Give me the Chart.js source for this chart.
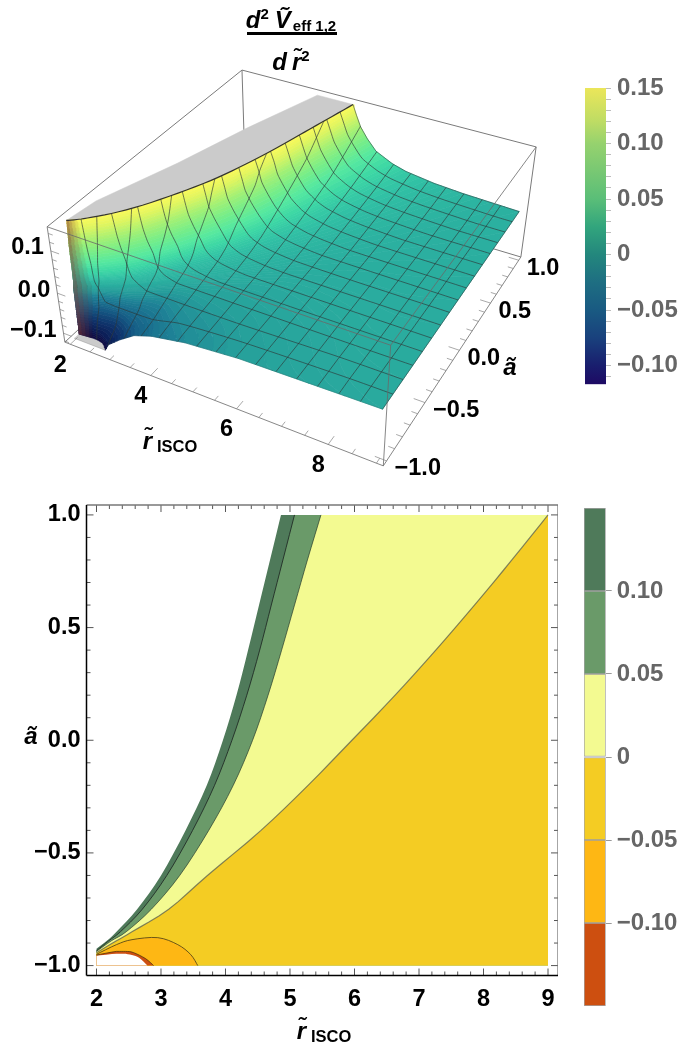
<!DOCTYPE html>
<html><head><meta charset="utf-8">
<style>html,body{margin:0;padding:0;background:#fff;width:681px;height:1051px;overflow:hidden}canvas{position:absolute;display:block}</style>
<script src="https://cdn.jsdelivr.net/npm/chart.js@4"></script>
</head><body>
<canvas id="c3d" width="570" height="495" style="left:0;top:0;width:570px;height:495px"></canvas>
<canvas id="cb3d" width="111" height="330" style="left:570px;top:70px;width:111px;height:330px"></canvas>
<canvas id="cc" width="558" height="556" style="left:0;top:495px;width:558px;height:556px"></canvas>
<canvas id="cbc" width="111" height="525" style="left:570px;top:495px;width:111px;height:525px"></canvas>
<script>
// ---------- level curves: r and a along each contour of z ----------
const aNodes=[-0.89,-0.85,-0.75,-0.6,-0.4,-0.2,0,0.2,0.4,0.6,0.8,1];
const r_p150=[2,2.16,2.31,2.63,3.00,3.38,3.71,3.96,4.17,4.35,4.52,4.69,4.86];
const r_p125=[2,2.175,2.34,2.67,3.04,3.43,3.77,4.03,4.26,4.44,4.61,4.79,4.96];
const r_p100=[2,2.19,2.37,2.71,3.09,3.49,3.83,4.10,4.33,4.53,4.71,4.89,5.07];
const r_p075=[2,2.205,2.41,2.77,3.17,3.60,3.96,4.24,4.48,4.68,4.87,5.06,5.25];
const r_p050=[2,2.23,2.46,2.85,3.29,3.74,4.12,4.42,4.66,4.87,5.07,5.27,5.48];
const r_p030=[2,2.24,2.48,2.90,3.34,3.83,4.26,4.60,4.90,5.16,5.41,5.65,5.90];
const r_p020=[2,2.25,2.49,2.93,3.38,3.91,4.37,4.75,5.10,5.40,5.69,5.97,6.25];
const r_p010=[2,2.265,2.50,2.98,3.47,4.07,4.60,5.07,5.50,5.87,6.24,6.60,6.96];
const r_p005=[2,2.28,2.52,3.04,3.56,4.24,4.84,5.38,5.89,6.34,6.80,7.24,7.66];
const r_000=[2,2.31,2.55,3.12,3.72,4.55,5.28,5.96,6.63,7.26,7.86,8.44,9];
const a0_p150=-0.925,a0_p125=-0.929,a0_p100=-0.934,a0_p075=-0.936,a0_p050=-0.937,a0_p030=-0.938,a0_p020=-0.939,a0_p010=-0.940,a0_p005=-0.941,a0_000=-0.943;
const r_m002=[2,2.31,2.55,3.12,3.72,4.55,5.28,5.96,6.63,7.26,7.86,8.44,9];
const a_m002=[-0.945,-0.892,-0.853,-0.755,-0.62,-0.448,-0.307,-0.2,-0.14,-0.10,-0.10,-0.06,0];
const r_m004=[2,2.31,2.55,3.12,3.72,4.55,5.28,5.96,6.63,7.26,7.86,8.44,9];
const a_m004=[-0.946,-0.894,-0.857,-0.765,-0.64,-0.50,-0.41,-0.40,-0.48,-0.60,-0.82,-0.94,-1];
const r_m010=[2,2.31,2.55,3.12,3.72,4.2,4.6,5,5.4,5.8,5.95,6,6];
const a_m010=[-0.947,-0.897,-0.862,-0.785,-0.68,-0.65,-0.66,-0.69,-0.74,-0.88,-0.97,-1,-1];
const r_m020=[2,2.31,2.55,3.18,3.5,3.8,4.1,4.4,4.7,4.8,4.8,4.8,4.8];
const a_m020=[-0.948,-0.90,-0.87,-0.815,-0.77,-0.76,-0.81,-0.88,-0.97,-1,-1,-1,-1];
const r_m035=[2,2.31,2.55,3.0,3.4,3.7,3.9,4,4,4,4,4,4];
const a_m035=[-0.949,-0.904,-0.878,-0.85,-0.84,-0.87,-0.94,-1,-1,-1,-1,-1,-1];
const r_m050=[2,2.31,2.55,2.95,3.26,3.46,3.57,3.57,3.57,3.57,3.57,3.57,3.57];
const a_m050=[-0.95,-0.907,-0.885,-0.876,-0.907,-0.951,-1,-1,-1,-1,-1,-1,-1];
const r_m075=[2,2.31,2.55,2.85,3.1,3.2,3.2,3.2,3.2,3.2,3.2,3.2,3.2];
const a_m075=[-0.952,-0.925,-0.915,-0.91,-0.95,-1,-1,-1,-1,-1,-1,-1,-1];
const r_m100=[2,2.31,2.45,2.57,2.76,2.885,2.885,2.885,2.885,2.885,2.885,2.885,2.885];
const a_m100=[-0.953,-0.937,-0.937,-0.942,-0.969,-1,-1,-1,-1,-1,-1,-1,-1];
const r_clip=[2,2.31,2.42,2.55,2.66,2.79,2.79,2.79,2.79,2.79,2.79,2.79,2.79];
const a_clip=[-0.956,-0.947,-0.947,-0.953,-0.965,-1,-1,-1,-1,-1,-1,-1,-1];
// back edge of the grey clipped top, and edge profiles of the surface
const capR=[3.95,3.3,2.75,2.1,2];
const capA=[1,0.43,-0.13,-0.69,-0.925];
const edgeR=[2.79,2.885,3.2,3.57,4,4.8,6,9];
const edgeZ=[-0.1175,-0.10,-0.075,-0.05,-0.035,-0.02,-0.01,-0.004];
const rightA=[-1,0,1];
const rightZ=[-0.004,-0.002,0];
// ticks
const rTicks=[2,3,4,5,6,7,8,9];
const aTicks=[-1,-0.5,0,0.5,1];
const zTicks3d=[-0.1,0,0.1];
const rTicks3d=[2,4,6,8];
const cb3dTicks=[-0.11,-0.10,-0.09,-0.08,-0.07,-0.06,-0.05,-0.04,-0.03,-0.02,-0.01,0,0.01,0.02,0.03,0.04,0.05,0.06,0.07,0.08,0.09,0.10,0.11,0.12,0.13,0.14,0.15];
const cbcTicks=[-0.10,-0.05,0,0.05,0.10];
const cbcEdges=[-0.15,-0.10,-0.05,0,0.05,0.10,0.15];
const cbcColors=['#cd4f10','#feb714','#f4cc23','#f3fa91','#6a9a69','#4f7a5a'];
const surfStops=[[-0.1175,15,10,65],[-0.1,12,28,85],[-0.075,15,55,110],[-0.05,22,95,135],[-0.025,30,130,150],[-0.01,38,160,155],[0,43,176,160],[0.015,50,195,165],[0.03,60,215,165],[0.05,85,232,160],[0.075,120,238,135],[0.10,165,240,115],[0.13,225,245,95],[0.15,252,250,90]];
const barStops=[[0.15,'#ebe65a'],[0.12,'#bedc64'],[0.10,'#96d26e'],[0.05,'#5abe78'],[0.025,'#32a57d'],[0,'#23877d'],[-0.025,'#1e6e82'],[-0.05,'#195a82'],[-0.075,'#19417d'],[-0.10,'#191e6e'],[-0.1169,'#1e0a64']];

// ---------- assembling: curves are splined for drawing, like a line tension ----------
function spline(v,lo,hi){const out=[],n=v.length,M=4;for(let i=0;i<n-1;i++){const p0=v[Math.max(i-1,0)],p1=v[i],p2=v[i+1],p3=v[Math.min(i+2,n-1)];
  for(let s=0;s<M;s++){const t=s/M;let q=p1===p2?p1:0.5*(2*p1+(p2-p0)*t+(2*p0-5*p1+4*p2-p3)*t*t+(3*p1-p0-3*p2+p3)*t*t*t);out.push(Math.min(hi,Math.max(lo,q)));}}
  out.push(v[n-1]);return out;}
const lev=(z,r,a)=>({z,r:spline(r,2,9),a:spline(a,-1,1)});
const pos=(z,r,a0)=>lev(z,r,[a0,...aNodes]);
const L=[pos(.15,r_p150,a0_p150),pos(.125,r_p125,a0_p125),pos(.10,r_p100,a0_p100),pos(.075,r_p075,a0_p075),pos(.05,r_p050,a0_p050),pos(.03,r_p030,a0_p030),pos(.02,r_p020,a0_p020),pos(.01,r_p010,a0_p010),pos(.005,r_p005,a0_p005),pos(0,r_000,a0_000),
 lev(-.002,r_m002,a_m002),lev(-.004,r_m004,a_m004),lev(-.01,r_m010,a_m010),lev(-.02,r_m020,a_m020),lev(-.035,r_m035,a_m035),lev(-.05,r_m050,a_m050),lev(-.075,r_m075,a_m075),lev(-.10,r_m100,a_m100),lev(-.1175,r_clip,a_clip)];
const NN=L[0].r.length;
const byZ=z=>L.find(l=>Math.abs(l.z-z)<1e-9);
const R0=1.86,R1=9.14,A0=-1.04,A1=1.04,ZB=-0.123,ZT=0.155;
const CAM=[[0,0,1,47,227],[0,1,1,242,70],[1,1,1,536,147],[1,0,1,391,345],[0,0,0,65,342],[1,0,0,383,466],[1,1,0,521,257]];
function solveCam(){
  const rows=[],rhs=[];
  for(const [u,v,w,x,y] of CAM){
    rows.push([u,v,w,1,0,0,0,0,-u*x,-v*x,-w*x]);rhs.push(x);
    rows.push([0,0,0,0,u,v,w,1,-u*y,-v*y,-w*y]);rhs.push(y);
  }
  const n=11,M=[];
  for(let i=0;i<n;i++){M[i]=[];for(let j=0;j<=n;j++){let s=0;rows.forEach((row,k)=>{s+=row[i]*(j<n?row[j]:rhs[k]);});M[i][j]=s;}}
  for(let i=0;i<n;i++){let p=i;for(let k=i+1;k<n;k++)if(Math.abs(M[k][i])>Math.abs(M[p][i]))p=k;[M[i],M[p]]=[M[p],M[i]];
    for(let k=0;k<n;k++){if(k===i)continue;const f=M[k][i]/M[i][i];for(let j=i;j<=n;j++)M[k][j]-=f*M[i][j];}}
  return M.map((row,i)=>row[n]/row[i]);
}
const P=solveCam();
function proj(r,a,z){const u=(r-R0)/(R1-R0),v=(a-A0)/(A1-A0),w=(z-ZB)/(ZT-ZB);const d=P[8]*u+P[9]*v+P[10]*w+1;
  return {x:(P[0]*u+P[1]*v+P[2]*w+P[3])/d,y:(P[4]*u+P[5]*v+P[6]*w+P[7])/d};}
function surfRGB(z){for(let i=1;i<surfStops.length;i++){if(z<=surfStops[i][0]){const A=surfStops[i-1],B=surfStops[i],t=Math.max(0,(z-A[0])/(B[0]-A[0]));
  return [1,2,3].map(c=>A[c]+(B[c]-A[c])*t);}}return [252,250,90];}
const BROWN=[125,60,55];
const css=(c,w)=>'rgb('+c.map((v,i)=>Math.round(v+(BROWN[i]-v)*w)).join(',')+')';
const lerp=(a,b,t)=>a+(b-a)*t;
const ipol=(xs,ys,x)=>{for(let i=1;i<xs.length;i++)if(x<=xs[i])return lerp(ys[i-1],ys[i],(x-xs[i-1])/(xs[i]-xs[i-1]));return ys[ys.length-1];};
const ds3=[];
const add=(data,o)=>ds3.push(Object.assign({data,showLine:true,pointRadius:0,borderWidth:1,borderColor:'#777',fill:false,tension:0},o||{}));
const seg=(p,q)=>[proj(...p),proj(...q),{x:NaN,y:NaN}];
const C=[[R0,A0,ZT],[R0,A1,ZT],[R1,A1,ZT],[R1,A0,ZT],[R0,A0,ZB],[R0,A1,ZB],[R1,A1,ZB],[R1,A0,ZB]];
// back box
add([...seg(C[0],C[1]),...seg(C[1],C[2]),...seg(C[1],C[5]),...seg(C[5],C[4]),...seg(C[5],C[6]),...seg(C[2],C[6])],{borderColor:'#7a7a7a'});
// grey caps
const topL=byZ(.15),lowL=byZ(-.1175);
add([...topL.r.map((r,i)=>proj(r,topL.a[i],.15)),...capR.map((r,i)=>proj(r,capA[i],.15))],{fill:'shape',backgroundColor:'#cbcbcb',borderColor:'#cbcbcb',borderWidth:.5});
add([...lowL.r.map((r,i)=>proj(r,lowL.a[i],-.1175)),proj(2,-1,-.1175)],{fill:'shape',backgroundColor:'#cbcbcb',borderColor:'#999',borderWidth:.5});
// surface strips, high to low; the steep wall near r = 2 is tinted afterwards
const NS=4,WALL=[0.58,0.42,0.26,0.12];
const strip=(A,B,s,fn)=>{const t0=s/NS,t1=(s+1)/NS;fn((j,t)=>proj(lerp(A.r[j],B.r[j],t),lerp(A.a[j],B.a[j],t),lerp(A.z,B.z,t)),t0,t1,surfRGB(lerp(A.z,B.z,(t0+t1)/2)));};
for(let k=0;k<L.length-1;k++)for(let s=0;s<NS;s++)strip(L[k],L[k+1],s,(at,t0,t1,rgb)=>{const poly=[];
    for(let j=0;j<NN;j++)poly.push(at(j,t0));
    for(let j=NN-1;j>=0;j--)poly.push(at(j,t1));
    const col=css(rgb,0);add(poly,{fill:'shape',backgroundColor:col,borderColor:col,borderWidth:.7});});
for(let j=3;j>=0;j--){for(let k=0;k<L.length-1;k++)for(let s=0;s<NS;s++)strip(L[k],L[k+1],s,(at,t0,t1,rgb)=>{
    const c=css(rgb,WALL[j]);add([at(j,t0),at(j+1,t0),at(j+1,t1),at(j,t1)],{fill:'shape',backgroundColor:c,borderColor:c,borderWidth:.6});});}
// mesh: where each level curve crosses r = const and a = const
const mesh=[];
function crossings(v,c){const out=[];for(let j=0;j<NN-1;j++){if((v[j]-c)*(v[j+1]-c)<0)out.push(j+(c-v[j])/(v[j+1]-v[j]));}return out;}
const endR=L.slice(0,10).map(l=>l.r[NN-1]),endZ=L.slice(0,10).map(l=>l.z);
function meshR(c){const p=[];L.forEach(l=>crossings(l.r,c).forEach(t=>{const j=Math.floor(t);p.push([lerp(l.a[j],l.a[j+1],t-j),l.z]);}));
  if(c>edgeR[0])p.push([-1,ipol(edgeR,edgeZ,c)]);
  if(c>endR[0])p.push([1,ipol(endR,endZ,c)]);
  p.sort((x,y)=>x[0]-y[0]);p.forEach(q=>mesh.push(proj(c,q[0],q[1])));mesh.push({x:NaN,y:NaN});}
function meshA(c){const p=[];L.forEach(l=>crossings(l.a,c).forEach(t=>{const j=Math.floor(t);p.push([lerp(l.r[j],l.r[j+1],t-j),l.z]);}));
  p.push([9,ipol(rightA,rightZ,c)]);
  p.sort((x,y)=>x[0]-y[0]);p.forEach(q=>mesh.push(proj(q[0],c,q[1])));mesh.push({x:NaN,y:NaN});}
for(let i=1;i<=15;i++){meshR(2+7*i/16+1e-7);meshA(-1+2*i/16+1e-7);}
add(mesh,{borderColor:'rgba(45,55,55,0.72)',borderWidth:.9,tension:.2});
// surface outlines
add(topL.r.map((r,i)=>proj(r,topL.a[i],.15)),{borderColor:'#333',borderWidth:1.2});
add(endR.map((r,i)=>proj(r,1,endZ[i])),{borderColor:'rgba(40,60,60,0.7)',borderWidth:.8});
add(rightA.map((a,i)=>proj(9,a,rightZ[i])),{borderColor:'rgba(40,60,60,0.7)',borderWidth:.8});
add(edgeR.map((r,i)=>proj(r,-1,edgeZ[i])),{borderColor:'rgba(40,60,60,0.35)',borderWidth:.6});
// front box and ticks
add([...seg(C[0],C[3]),...seg(C[3],C[2]),...seg(C[3],C[7]),...seg(C[7],C[4]),...seg(C[4],C[0]),...seg(C[7],C[6])],{borderColor:'rgba(105,105,105,0.8)'});
const tk=[];
for(let i=0;i<=14;i++){const r=2+i*.5,m=i%4===0;tk.push(...seg([r,A0,ZB],[r,A0+(m?.07:.04),ZB]));}
for(let i=0;i<=20;i++){const a=-1+i*.1,m=i%5===0;tk.push(...seg([R1,a,ZB],[R1-(m?.24:.13),a,ZB]));}
for(let i=0;i<=13;i++){const z=-.12+i*.02,m=i%5===1;tk.push(...seg([R0,A0,z],[R0+(m?.2:.11),A0,z]));}
add(tk,{borderColor:'rgba(120,120,120,0.8)',borderWidth:.8});
ds3.forEach((d,i)=>d.order=-i);

const FB='bold 23.5px "Liberation Sans"',FI='italic bold 24px "Liberation Sans"',FS='bold 16.5px "Liberation Sans"',FT='bold 15px "Liberation Sans"';
const fmt=v=>{const s=Math.abs(v).toFixed(1);return (v<0?'\u2212':'')+s;};
function runs(ctx,x,y,list,center){ctx.textBaseline='alphabetic';ctx.textAlign='left';let w=0;list.forEach(o=>{ctx.font=o.f;w+=ctx.measureText(o.t).width+(o.g||0);});
  let cx=center?x-w/2:x;list.forEach(o=>{ctx.font=o.f;ctx.fillText(o.t,cx,y+(o.dy||0));cx+=ctx.measureText(o.t).width+(o.g||0);});}
const rTitle=[{t:'r\u0303',f:FI,g:5},{t:'ISCO',f:FS,dy:3}];

const labels3d={id:'labels3d',afterDraw(ch){const c=ch.ctx,sx=ch.scales.x,sy=ch.scales.y;const X=v=>sx.getPixelForValue(v),Y=v=>sy.getPixelForValue(v);
  c.save();c.fillStyle='#000';c.font=FB;c.textBaseline='middle';
  c.textAlign='center';rTicks3d.forEach(r=>{const p=proj(r,A0,ZB);c.fillText(String(r),X(p.x)-10,Y(p.y)+21);});
  c.textAlign='left';aTicks.forEach(a=>{const p=proj(R1,a,ZB);c.fillText(fmt(a),X(p.x)+8,Y(p.y)+8);});
  c.textAlign='right';zTicks3d.forEach(z=>{const p=proj(R0,A0,z);c.fillText(fmt(z),X(p.x)-7,Y(p.y)-3);});
  runs(c,510,375,[{t:'\u00e3',f:FI}],true);
  runs(c,170,449,rTitle,true);
  runs(c,291,28,[{t:'d',f:FI},{t:'2',f:FT,dy:-9,g:6},{t:'V\u0303',f:FI,g:2},{t:'eff 1,2',f:FT,dy:3}],true);
  c.fillRect(247,32,90,3);
  runs(c,291,70,[{t:'d',f:FI,g:5},{t:'r\u0303',f:FI},{t:'2',f:FT,dy:-9}],true);
  c.restore();}};
const off={legend:{display:false},tooltip:{enabled:false},title:{display:false}};
new Chart(document.getElementById('c3d'),{type:'scatter',data:{datasets:ds3},plugins:[labels3d],options:{responsive:false,animation:false,events:[],plugins:off,layout:{padding:0},
  scales:{x:{type:'linear',display:false,min:0,max:570},y:{type:'linear',display:false,min:0,max:495,reverse:true}}}});

// fitted axes keep the plot frame exactly where the picture has it
const fitW=w=>s=>{s.width=w;s.paddingTop=s.paddingBottom=s.paddingLeft=s.paddingRight=0;};
const fitH=h=>s=>{s.height=h;s.paddingTop=s.paddingBottom=s.paddingLeft=s.paddingRight=0;};
// colour bars
const sideFont={family:'"Liberation Sans"',size:24,weight:'bold'};
const cbLabel=v=>{if(Math.abs(v)<1e-9)return '0';const q=v/0.05;if(Math.abs(q-Math.round(q))>1e-6)return '';return (v<0?'\u2212':'')+Math.abs(v).toFixed(2);};
const bar3dBg=ctx=>{const ca=ctx.chart.chartArea;if(!ca)return '#23877d';const g=ctx.chart.ctx.createLinearGradient(0,ca.top,0,ca.bottom);
  barStops.forEach(s=>g.addColorStop((0.15-s[0])/(0.15+0.1169),s[1]));return g;};
new Chart(document.getElementById('cb3d'),{type:'bar',data:{labels:[''],datasets:[{data:[[-0.1169,0.15]],backgroundColor:bar3dBg,barPercentage:1,categoryPercentage:1,borderWidth:0}]},
  options:{responsive:false,animation:false,events:[],plugins:off,layout:{padding:{left:15,top:18,bottom:15.7,right:0}},
  scales:{x:{type:'category',display:false},y:{position:'right',min:-0.1169,max:0.15,afterFit:fitW(75),afterBuildTicks:s=>{s.ticks=cb3dTicks.map(value=>({value}));},
    grid:{drawOnChartArea:false,drawTicks:true,tickLength:5,tickColor:'#bdbdbd',tickWidth:1},border:{display:false},
    ticks:{autoSkip:false,maxRotation:0,padding:6,color:'#666',font:sideFont,callback:cbLabel}}}}});
new Chart(document.getElementById('cbc'),{type:'bar',data:{labels:[''],datasets:cbcColors.map((c,i)=>({data:[[cbcEdges[i],cbcEdges[i+1]]],backgroundColor:c,borderColor:'rgba(50,50,50,0.45)',borderWidth:1,borderSkipped:false,grouped:false,barPercentage:1,categoryPercentage:1}))},
  options:{responsive:false,animation:false,events:[],plugins:off,layout:{padding:{left:14,top:13,bottom:14,right:0}},
  scales:{x:{type:'category',display:false},y:{position:'right',min:-0.15,max:0.15,afterFit:fitW(75.3),afterBuildTicks:s=>{s.ticks=cbcTicks.map(value=>({value}));},
    grid:{drawOnChartArea:false,drawTicks:true,tickLength:6,tickColor:'#999',tickWidth:1},border:{display:false},
    ticks:{autoSkip:false,maxRotation:0,padding:5,color:'#666',font:sideFont,callback:cbLabel}}}}});

// contour chart
const dc=[];
const pts=l=>l.r.map((r,i)=>({x:r,y:l.a[i]}));
const band=(l,col)=>dc.push({data:[...pts(l),{x:9,y:1},{x:9,y:-1},{x:2,y:-1}],showLine:true,fill:'shape',backgroundColor:col,borderWidth:0,pointRadius:0});
const arc=(l,col)=>dc.push({data:[...pts(l),{x:2,y:-1}],showLine:true,fill:'shape',backgroundColor:col,borderWidth:0,pointRadius:0});
band(byZ(.15),cbcColors[5]);band(byZ(.10),cbcColors[4]);band(byZ(.05),cbcColors[3]);
dc.push({data:[...pts(byZ(0)),{x:9,y:-1},{x:2,y:-1}],showLine:true,fill:'shape',backgroundColor:cbcColors[2],borderWidth:0,pointRadius:0});
arc(byZ(-.05),cbcColors[1]);arc(byZ(-.10),cbcColors[0]);arc(byZ(-.1175),'#ffffff');
[[.10,'rgba(30,40,35,0.85)',1],[.05,'rgba(40,60,45,0.7)',1],[0,'rgba(90,95,80,0.75)',1.2],[-.05,'rgba(60,50,20,0.75)',1],[-.10,'rgba(60,40,10,0.7)',1]].forEach(([z,c,w])=>{
  dc.push({data:pts(byZ(z)),showLine:true,fill:false,borderColor:c,borderWidth:w,pointRadius:0});});
dc.forEach((d,i)=>d.order=-i);
const frame={id:'frame',afterDraw(ch){const c=ch.ctx,a=ch.chartArea,sx=ch.scales.x,sy=ch.scales.y;c.save();
  const tick=(x1,y1,x2,y2)=>{c.beginPath();c.moveTo(x1,y1);c.lineTo(x2,y2);c.stroke();};
  c.strokeStyle='#555';c.lineWidth=1;
  for(let i=0;i<=35;i++){const v=2+i*.2,x=sx.getPixelForValue(v),m=i%5===0?7:4;tick(x,a.bottom,x,a.bottom-m);tick(x,a.top,x,a.top+m);}
  for(let i=0;i<=20;i++){const v=-1+i*.1,y=sy.getPixelForValue(v),m=i%5===0?7:4;tick(a.left,y,a.left+m,y);tick(a.right,y,a.right-m,y);}
  c.strokeStyle='#777';c.lineWidth=1.3;tick(a.left,a.top,a.right,a.top);tick(a.right,a.top,a.right,a.bottom);
  c.strokeStyle='#000';c.lineWidth=1.5;tick(a.left,a.top,a.left,a.bottom);tick(a.left,a.bottom,a.right,a.bottom);
  c.fillStyle='#000';
  runs(c,324,544,rTitle,true);
  runs(c,31,249,[{t:'\u00e3',f:FI}],true);
  c.restore();}};
const tickFont={family:'"Liberation Sans"',size:23.5,weight:'bold'};
new Chart(document.getElementById('cc'),{type:'scatter',data:{datasets:dc},plugins:[frame],options:{responsive:false,animation:false,events:[],plugins:off,layout:{padding:{top:10,right:0,left:0,bottom:0}},
  scales:{x:{type:'linear',min:1.845,max:9.155,afterFit:fitH(75.5),afterBuildTicks:s=>{s.ticks=rTicks.map(value=>({value}));},grid:{display:false,drawTicks:false},border:{display:false},
      ticks:{autoSkip:false,maxRotation:0,padding:10,color:'#000',font:tickFont,callback:v=>String(v)}},
    y:{type:'linear',min:-1.044,max:1.044,afterFit:fitW(86.5),afterBuildTicks:s=>{s.ticks=aTicks.map(value=>({value}));},grid:{display:false,drawTicks:false},border:{display:false},
      ticks:{autoSkip:false,padding:6,color:'#000',font:tickFont,callback:v=>fmt(v)}}}}});
</script></body></html>
